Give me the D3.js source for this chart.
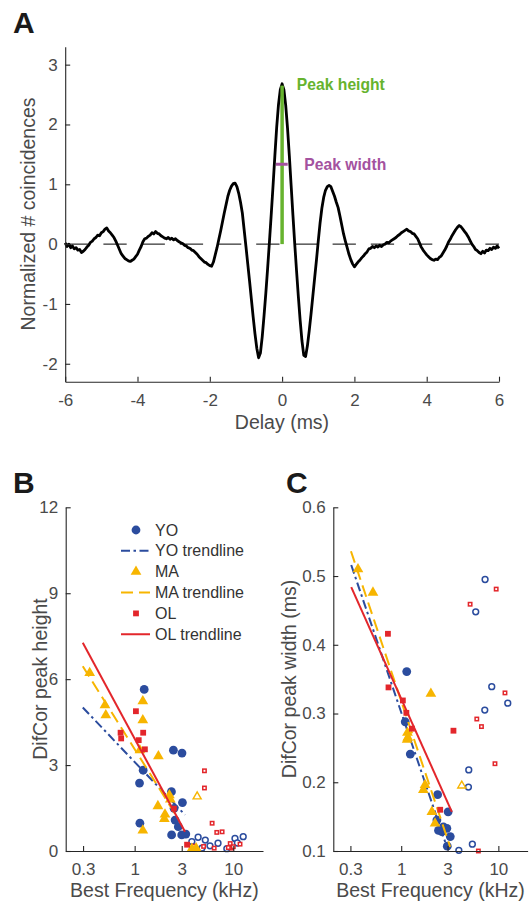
<!DOCTYPE html>
<html lang="en">
  <head>
    <meta charset="UTF-8" />
    <title>DifCor peaks</title>
    <style>
      body {
        margin: 0;
        background: #fff;
      }
      svg {
        display: block;
        font-family: "Liberation Sans", Arial, Helvetica, sans-serif;
      }
      .axis path,
      .axis line {
        stroke: #262626;
        stroke-width: 1.1px;
      }
      .axis text {
        fill: #4a4a4a;
        font-size: 17px;
      }
      .label {
        fill: #4a4a4a;
        font-size: 19.5px;
      }
      .panel {
        font-weight: bold;
        font-size: 30px;
        fill: #1a1a1a;
      }
      .legend text {
        fill: #333;
        font-size: 16px;
      }
    </style>
  </head>

  <body>
    <script src="https://cdn.jsdelivr.net/npm/d3@7"></script>
    <script>
      /* global d3 */

      // ---- panel A: DifCor curve, [delay ms, normalized coincidences]
      const difcor = [
        [-6.0, 0.02], [-5.95, -0.04], [-5.9, 0.0], [-5.85, -0.06], [-5.8, -0.03],
        [-5.75, -0.08], [-5.7, -0.06], [-5.65, -0.1], [-5.6, -0.09], [-5.55, -0.14],
        [-5.5, -0.12], [-5.45, -0.09], [-5.4, -0.05], [-5.35, -0.02], [-5.3, 0.03],
        [-5.25, 0.05], [-5.2, 0.09], [-5.15, 0.11], [-5.1, 0.15], [-5.05, 0.14],
        [-5.0, 0.19], [-4.95, 0.21], [-4.9, 0.25], [-4.85, 0.27], [-4.8, 0.22],
        [-4.75, 0.19], [-4.7, 0.15], [-4.65, 0.11], [-4.6, 0.05], [-4.55, -0.02],
        [-4.5, -0.09], [-4.45, -0.16], [-4.4, -0.2], [-4.35, -0.24], [-4.3, -0.26],
        [-4.25, -0.28], [-4.2, -0.29], [-4.15, -0.27], [-4.1, -0.25], [-4.05, -0.21],
        [-4.0, -0.17], [-3.95, -0.1], [-3.9, -0.04], [-3.85, 0.04], [-3.8, 0.09],
        [-3.75, 0.1], [-3.7, 0.13], [-3.65, 0.15], [-3.6, 0.19], [-3.55, 0.17],
        [-3.5, 0.21], [-3.45, 0.18], [-3.4, 0.17], [-3.35, 0.14], [-3.3, 0.12],
        [-3.25, 0.1], [-3.2, 0.09], [-3.15, 0.11], [-3.1, 0.08], [-3.05, 0.1],
        [-3.0, 0.07], [-2.95, 0.09], [-2.9, 0.06], [-2.85, 0.04], [-2.8, 0.02],
        [-2.75, 0.01], [-2.7, -0.02], [-2.65, -0.03], [-2.6, -0.06], [-2.55, -0.07],
        [-2.5, -0.1], [-2.45, -0.11], [-2.4, -0.14], [-2.35, -0.17], [-2.3, -0.21],
        [-2.25, -0.24], [-2.2, -0.27], [-2.15, -0.3], [-2.1, -0.31], [-2.05, -0.34],
        [-2.0, -0.36], [-1.95, -0.37], [-1.9, -0.3], [-1.85, -0.18], [-1.8, -0.06],
        [-1.75, 0.08], [-1.7, 0.22], [-1.65, 0.37], [-1.6, 0.52], [-1.55, 0.66],
        [-1.5, 0.8], [-1.45, 0.9], [-1.4, 0.97], [-1.35, 1.01], [-1.3, 1.02],
        [-1.25, 0.96], [-1.2, 0.85], [-1.15, 0.7], [-1.1, 0.52], [-1.05, 0.24],
        [-1.0, -0.04], [-0.95, -0.33], [-0.9, -0.62], [-0.85, -0.92], [-0.8, -1.22],
        [-0.75, -1.5], [-0.7, -1.74], [-0.65, -1.9], [-0.6, -1.82], [-0.55, -1.55],
        [-0.5, -1.2], [-0.45, -0.82], [-0.4, -0.4], [-0.35, 0.04], [-0.3, 0.5],
        [-0.25, 0.98], [-0.2, 1.48], [-0.15, 1.95], [-0.1, 2.33], [-0.05, 2.58],
        [0.0, 2.68], [0.05, 2.58], [0.1, 2.32], [0.15, 1.94], [0.2, 1.48],
        [0.25, 0.98], [0.3, 0.48], [0.35, 0.0], [0.4, -0.45], [0.45, -0.88],
        [0.5, -1.28], [0.55, -1.62], [0.6, -1.86], [0.65, -1.88], [0.7, -1.7],
        [0.75, -1.45], [0.8, -1.17], [0.85, -0.87], [0.9, -0.57], [0.95, -0.27],
        [1.0, 0.05], [1.05, 0.35], [1.1, 0.6], [1.15, 0.78], [1.2, 0.9],
        [1.25, 0.96], [1.3, 0.98], [1.35, 0.96], [1.4, 0.88], [1.45, 0.8],
        [1.5, 0.7], [1.55, 0.61], [1.6, 0.47], [1.65, 0.32], [1.7, 0.17],
        [1.75, 0.05], [1.8, -0.06], [1.85, -0.17], [1.9, -0.26], [1.95, -0.33],
        [2.0, -0.38], [2.05, -0.34], [2.1, -0.3], [2.15, -0.27], [2.2, -0.23],
        [2.25, -0.2], [2.3, -0.16], [2.35, -0.13], [2.4, -0.08], [2.45, -0.07],
        [2.5, -0.04], [2.55, -0.06], [2.6, -0.03], [2.65, -0.05], [2.7, -0.02],
        [2.75, -0.04], [2.8, -0.01], [2.85, 0.0], [2.9, 0.03], [2.95, 0.02],
        [3.0, 0.05], [3.05, 0.07], [3.1, 0.09], [3.15, 0.11], [3.2, 0.14],
        [3.25, 0.16], [3.3, 0.19], [3.35, 0.21], [3.4, 0.23], [3.45, 0.25],
        [3.5, 0.22], [3.55, 0.21], [3.6, 0.18], [3.65, 0.17], [3.7, 0.13],
        [3.75, 0.09], [3.8, 0.02], [3.85, -0.05], [3.9, -0.1], [3.95, -0.14],
        [4.0, -0.18], [4.05, -0.21], [4.1, -0.24], [4.15, -0.26], [4.2, -0.27],
        [4.25, -0.25], [4.3, -0.26], [4.35, -0.22], [4.4, -0.2], [4.45, -0.15],
        [4.5, -0.1], [4.55, -0.04], [4.6, 0.03], [4.65, 0.08], [4.7, 0.14],
        [4.75, 0.19], [4.8, 0.24], [4.85, 0.28], [4.9, 0.31], [4.95, 0.29],
        [5.0, 0.25], [5.05, 0.21], [5.1, 0.17], [5.15, 0.12], [5.2, 0.06],
        [5.25, 0.0], [5.3, -0.04], [5.35, -0.09], [5.4, -0.11], [5.45, -0.14],
        [5.5, -0.16], [5.55, -0.12], [5.6, -0.15], [5.65, -0.1], [5.7, -0.11],
        [5.75, -0.07], [5.8, -0.09], [5.85, -0.05], [5.9, -0.07], [5.95, -0.03],
        [6.0, -0.07]
      ];
      const peakHeight = 2.65;
      const halfHeight = 1.335;
      const widthSpan = [-0.17, 0.155];

      // ---- panel B: DifCor peak height vs best frequency [kHz, height]
      const heightYO = [
        [1.25, 5.64], [1.22, 2.82], [1.12, 2.37], [1.13, 0.97], [2.47, 3.52],
        [3.02, 3.42], [2.36, 2.07], [3.05, 1.69], [2.51, 1.49], [2.57, 1.08],
        [2.77, 0.85], [2.37, 0.56], [3.0, 0.56], [3.3, 0.59]
      ];
      const heightYOopen = [
        [3.8, 0.33], [4.4, 0.48], [5.2, 0.38], [5.8, 0.18], [7.0, 0.27],
        [8.6, 0.08], [10.4, 0.44], [12.6, 0.5], [11.0, 0.28], [4.8, 0.1]
      ];
      const heightMA = [
        [0.35, 6.22], [0.5, 5.09], [0.51, 4.74], [1.21, 5.23], [1.21, 4.57],
        [1.13, 3.52], [1.74, 3.31], [2.25, 1.95], [2.3, 1.8], [1.72, 1.57],
        [2.03, 1.28], [2.0, 1.12], [1.21, 0.72], [3.8, 0.08], [4.2, 0.1]
      ];
      const heightMAopen = [[4.3, 1.9]];
      const heightOL = [
        [1.03, 4.88], [0.72, 4.13], [0.73, 3.93], [1.22, 4.13], [1.1, 3.87],
        [1.27, 3.55], [2.5, 1.48], [3.4, 0.22]
      ];
      const heightOLopen = [
        [5.1, 2.8], [5.1, 2.2], [6.1, 0.97], [6.8, 0.65], [7.7, 0.67],
        [4.0, 0.17], [5.0, 0.16], [6.4, 0.1], [9.3, 0.26], [9.6, 0.1],
        [10.0, 0.15], [11.7, 0.24], [8.9, 0.12]
      ];
      const heightTrendYO = [[0.298, 5.01], [3.24, 1.26]];
      const heightTrendMA = [[0.298, 6.45], [2.6, 1.27]];
      const heightTrendOL = [[0.298, 7.27], [3.24, 0.67]];

      // ---- panel C: DifCor peak width (ms) vs best frequency [kHz, width]
      const widthYO = [
        [1.14, 0.361], [1.1, 0.288], [1.24, 0.241], [2.37, 0.182], [3.04, 0.157],
        [2.33, 0.145], [2.42, 0.13], [2.72, 0.135], [2.95, 0.133], [2.62, 0.128],
        [3.2, 0.121], [2.98, 0.107]
      ];
      const widthYOopen = [
        [7.3, 0.495], [5.85, 0.448], [8.55, 0.339], [7.25, 0.305], [12.5, 0.315],
        [4.96, 0.218], [4.92, 0.193], [5.4, 0.11], [3.92, 0.101]
      ];
      const widthMA = [
        [0.359, 0.51], [0.512, 0.476], [2.02, 0.329], [1.16, 0.272], [1.17, 0.265],
        [1.15, 0.262], [1.76, 0.196], [1.69, 0.189], [2.07, 0.157], [2.23, 0.14]
      ];
      const widthMAopen = [[4.2, 0.195]];
      const widthOL = [
        [0.73, 0.416], [0.74, 0.338], [1.04, 0.319], [1.13, 0.301], [1.29, 0.278],
        [3.45, 0.275], [2.52, 0.16]
      ];
      const widthOLopen = [
        [5.12, 0.459], [9.5, 0.481], [11.7, 0.33], [6.0, 0.292], [6.7, 0.281],
        [9.23, 0.227], [6.23, 0.1]
      ];
      const widthTrendYO = [[0.306, 0.516], [2.95, 0.106]];
      const widthTrendMA = [[0.304, 0.536], [3.19, 0.106]];
      const widthTrendOL = [[0.306, 0.484], [3.32, 0.157]];

      const bfTicks = [0.3, 1, 3, 10];
      const heightTicks = [0, 3, 6, 9, 12];
      const widthTicks = [0.1, 0.2, 0.3, 0.4, 0.5, 0.6];
      const delayTicks = [-6, -4, -2, 0, 2, 4, 6];
      const coincTicks = [-2, -1, 0, 1, 2, 3];
      const legendLabels = ["YO", "YO trendline", "MA", "MA trendline", "OL", "OL trendline"];

      const width = 532,
        height = 905;

      const blue = "#2b4c9e",
        yellow = "#f7b500",
        red = "#e3262b";

      const fmt = d => String(d); // keep plain hyphen minus

      const svg = d3
        .select("body")
        .append("svg")
        .attr("width", width)
        .attr("height", height);

      function axes(x, y, xTicks, yTicks) {
        const yAxis = d3
          .axisLeft(y)
          .tickValues(yTicks)
          .tickFormat(fmt)
          .tickSizeInner(-5)
          .tickSizeOuter(0)
          .tickPadding(7.5);
        const xAxis = d3
          .axisBottom(x)
          .tickValues(xTicks)
          .tickFormat(fmt)
          .tickSizeInner(-5)
          .tickSizeOuter(0)
          .tickPadding(12);
        svg
          .append("g")
          .attr("class", "axis")
          .attr("transform", `translate(0,${y.range()[0]})`)
          .call(xAxis);
        svg
          .append("g")
          .attr("class", "axis")
          .attr("transform", `translate(${x.range()[0]},0)`)
          .call(yAxis);
      }

      function markers(x, y, pts, shape, color, open) {
        const g = svg.append("g");
        if (shape === "circle") {
          g.selectAll("circle")
            .data(pts)
            .join("circle")
            .attr("cx", d => x(d[0]))
            .attr("cy", d => y(d[1]))
            .attr("r", open ? 2.9 : 4.4)
            .attr("fill", open ? "#fff" : color)
            .attr("stroke", open ? color : "none")
            .attr("stroke-width", 1.5);
        } else if (shape === "triangle") {
          const sym = d3.symbol(d3.symbolTriangle, open ? 28 : 50);
          g.selectAll("path")
            .data(pts)
            .join("path")
            .attr("d", sym)
            .attr("transform", d => `translate(${x(d[0])},${y(d[1])})`)
            .attr("fill", open ? "#fff" : color)
            .attr("stroke", open ? color : "none")
            .attr("stroke-width", 1.4);
        } else {
          const s = open ? 3.4 : 5.8;
          g.selectAll("rect")
            .data(pts)
            .join("rect")
            .attr("x", d => x(d[0]) - s / 2)
            .attr("y", d => y(d[1]) - s / 2)
            .attr("width", s)
            .attr("height", s)
            .attr("fill", open ? "#fff" : color)
            .attr("stroke", open ? color : "none")
            .attr("stroke-width", 1.5);
        }
      }

      const dashYO = "9,3.5,2.5,3.5",
        dashMA = "12,6";

      function trend(x, y, pts, color, dash) {
        svg
          .append("path")
          .datum(pts)
          .attr("fill", "none")
          .attr("stroke", color)
          .attr("stroke-width", 2)
          .attr("stroke-dasharray", dash)
          .attr(
            "d",
            d3
              .line()
              .x(d => x(d[0]))
              .y(d => y(d[1]))
          );
      }

      function yLabel(text, cx, cy) {
        svg
          .append("text")
          .attr("class", "label")
          .attr("text-anchor", "middle")
          .attr("transform", `translate(${cx},${cy}) rotate(-90)`)
          .text(text);
      }

      function xLabel(text, cx, cy) {
        svg
          .append("text")
          .attr("class", "label")
          .attr("text-anchor", "middle")
          .attr("x", cx)
          .attr("y", cy)
          .text(text);
      }

      // ================= panel A
      const xA = d3.scaleLinear().domain([-6, 6]).range([65.2, 499]);
      const yA = d3.scaleLinear().domain([-2.3, 3.3]).range([381.7, 46.7]);

      svg
        .append("line")
        .attr("x1", xA(-6))
        .attr("x2", xA(6))
        .attr("y1", yA(0))
        .attr("y2", yA(0))
        .attr("stroke", "#000")
        .attr("stroke-width", 1)
        .attr("stroke-dasharray", "23.3,14.9");

      svg
        .append("path")
        .datum(difcor)
        .attr("fill", "none")
        .attr("stroke", "#000")
        .attr("stroke-width", 2.8)
        .attr("stroke-linejoin", "round")
        .attr(
          "d",
          d3
            .line()
            .x(d => xA(d[0]))
            .y(d => yA(d[1]))
        );

      svg
        .append("line")
        .attr("x1", xA(0))
        .attr("x2", xA(0))
        .attr("y1", yA(0))
        .attr("y2", yA(peakHeight))
        .attr("stroke", "#66b32e")
        .attr("stroke-width", 3.5);

      svg
        .append("line")
        .attr("x1", xA(widthSpan[0]))
        .attr("x2", xA(widthSpan[1]))
        .attr("y1", yA(halfHeight))
        .attr("y2", yA(halfHeight))
        .attr("stroke", "#a4529f")
        .attr("stroke-width", 3);

      svg
        .append("text")
        .attr("x", 296.8)
        .attr("y", 90)
        .attr("fill", "#66b32e")
        .attr("font-weight", "bold")
        .attr("font-size", 15.7)
        .text("Peak height");

      svg
        .append("text")
        .attr("x", 304.3)
        .attr("y", 170)
        .attr("fill", "#a4529f")
        .attr("font-weight", "bold")
        .attr("font-size", 15.7)
        .text("Peak width");

      axes(xA, yA, delayTicks, coincTicks);
      yLabel("Normalized # coincidences", 35, 214);
      xLabel("Delay (ms)", 282, 429);

      // ================= panel B
      const xB = d3.scaleLog().domain([0.2, 20]).range([65.7, 263]);
      const yB = d3.scaleLinear().domain([0, 12]).range([851, 507.3]);

      markers(xB, yB, heightYOopen, "circle", blue, true);
      markers(xB, yB, heightMAopen, "triangle", yellow, true);
      markers(xB, yB, heightOLopen, "square", red, true);
      markers(xB, yB, heightYO, "circle", blue, false);
      trend(xB, yB, heightTrendYO, blue, dashYO);
      markers(xB, yB, heightMA, "triangle", yellow, false);
      trend(xB, yB, heightTrendMA, yellow, dashMA);
      markers(xB, yB, heightOL, "square", red, false);
      trend(xB, yB, heightTrendOL, red, null);

      axes(xB, yB, bfTicks, heightTicks);
      yLabel("DifCor peak height", 47, 679);
      xLabel("Best Frequency (kHz)", 164.4, 897);

      // legend
      const leg = svg.append("g").attr("class", "legend");
      const rowY = i => 530 + i * 20.85;
      legendLabels.forEach((name, i) => {
        const cy = rowY(i);
        const isLine = name.includes("trendline");
        const color = [blue, blue, yellow, yellow, red, red][i];
        if (isLine) {
          leg
            .append("line")
            .attr("x1", 121)
            .attr("x2", 150)
            .attr("y1", cy)
            .attr("y2", cy)
            .attr("stroke", color)
            .attr("stroke-width", 2)
            .attr("stroke-dasharray", [dashYO, null, dashMA, null, null, null][i - 1] || null);
        } else if (i === 0) {
          leg.append("circle").attr("cx", 136).attr("cy", cy).attr("r", 4.4).attr("fill", color);
        } else if (i === 2) {
          leg
            .append("path")
            .attr("d", d3.symbol(d3.symbolTriangle, 50))
            .attr("transform", `translate(136,${cy})`)
            .attr("fill", color);
        } else {
          leg
            .append("rect")
            .attr("x", 133.1)
            .attr("y", cy - 2.9)
            .attr("width", 5.8)
            .attr("height", 5.8)
            .attr("fill", color);
        }
        leg
          .append("text")
          .attr("x", 155)
          .attr("y", cy + 5.6)
          .text(name);
      });

      // ================= panel C
      const xC = d3.scaleLog().domain([0.2, 20]).range([333.3, 527.6]);
      const yC = d3.scaleLinear().domain([0.1, 0.6]).range([851, 507.3]);

      markers(xC, yC, widthYOopen, "circle", blue, true);
      markers(xC, yC, widthMAopen, "triangle", yellow, true);
      markers(xC, yC, widthOLopen, "square", red, true);
      markers(xC, yC, widthYO, "circle", blue, false);
      trend(xC, yC, widthTrendYO, blue, dashYO);
      markers(xC, yC, widthMA, "triangle", yellow, false);
      trend(xC, yC, widthTrendMA, yellow, dashMA);
      markers(xC, yC, widthOL, "square", red, false);
      trend(xC, yC, widthTrendOL, red, null);

      axes(xC, yC, bfTicks, widthTicks);
      yLabel("DifCor peak width (ms)", 296, 679);
      xLabel("Best Frequency (kHz)", 430.5, 897);

      // panel letters
      [["A", 13, 33], ["B", 13, 493], ["C", 286, 493]].forEach(([t, x, y]) => {
        svg.append("text").attr("class", "panel").attr("x", x).attr("y", y).text(t);
      });
    </script>
  </body>
</html>
